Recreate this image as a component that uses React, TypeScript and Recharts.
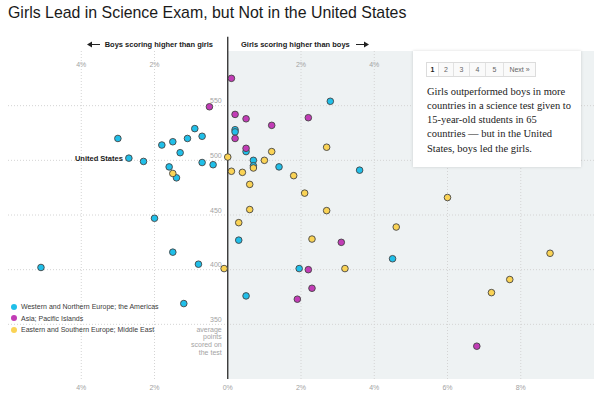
import {
  ScatterChart,
  Scatter,
  XAxis,
  YAxis,
  ReferenceLine,
  ReferenceArea,
  ReferenceDot,
} from 'recharts'

// gap = girls minus boys, in percent; score = average points on the test
const westGap = [-3.0, -2.7, -2.3, -1.8, -1.5, -1.1, -0.9, -0.7, -1.3, -1.6, -1.4, -0.7, -0.4, -2.0, 0.2, 0.2, 0.5, 0.7, 0.7, 1.4, 2.8, 3.6, 0.3, -1.5, -0.8, -5.1, 0.5, -1.2, 1.95, 4.5]
const westScore = [520, 502, 499, 514, 517, 520, 529, 522, 507, 494, 484, 498, 496, 447, 528, 526, 508, 500, 495, 494, 554, 491, 427, 416, 405, 402, 376, 369, 401, 410]

const asiaGap = [-0.5, 0.1, 0.2, 0.5, 1.2, 0.2, 0.5, 2.2, 3.1, 2.2, 2.3, 1.9, 6.8]
const asiaScore = [549, 575, 542, 538, 532, 520, 511, 539, 425, 400, 383, 373, 330]

const eastGap = [0, -1.5, 0.1, 0.4, 0.7, 1.0, 1.2, 0.6, 1.8, 0.6, 2.7, 2.1, 2.7, 6.0, 0.3, 2.3, 4.6, -0.1, 3.2, 8.8, 7.7, 7.2]
const eastScore = [503, 488, 490, 489, 493, 500, 508, 478, 486, 455, 512, 470, 454, 466, 443, 428, 439, 401, 401, 415, 391, 379]

const usGap = -2.7
const usScore = 502

const xTicks = [-4, -2, 0, 2, 4, 6, 8]
const topTicks = [-4, -2, 2, 4, 6, 8]
const yTicks = [350, 400, 450, 500, 550]

const groups = [
  { name: 'Western and Northern Europe; the Americas', color: '#20bfe9', gap: westGap, score: westScore },
  { name: 'Asia; Pacific Islands', color: '#c23cb6', gap: asiaGap, score: asiaScore },
  { name: 'Eastern and Southern Europe; Middle East', color: '#fad355', gap: eastGap, score: eastScore },
]

const SANS = '"Liberation Sans", Arial, Helvetica, sans-serif'
const SERIF = '"Liberation Serif", Georgia, serif'
const TICK = '#a3a3a3'
const GRID = '#d4d4d4'

const pct = (v: number) => `${Math.abs(v)}%`

const makeDot = (fill: string) => (p: any) => (
  <circle cx={p.cx} cy={p.cy} r={3.3} fill={fill} stroke="#444" strokeWidth={0.9} />
)

const BottomTick = ({ x, y, payload }: any) => (
  <text x={x} y={y + 10.5} textAnchor="middle" fontSize={7} fill={TICK} fontFamily={SANS}>
    {pct(payload.value)}
  </text>
)

const Arrow = ({ dir }: { dir: 'left' | 'right' }) => (
  <svg width={13} height={7} style={{ display: 'block' }}>
    {dir === 'left' ? (
      <>
        <line x1={4} y1={3.5} x2={13} y2={3.5} stroke="#222" strokeWidth={1} />
        <polygon points="0,3.5 5,0.5 5,6.5" fill="#222" />
      </>
    ) : (
      <>
        <line x1={0} y1={3.5} x2={9} y2={3.5} stroke="#222" strokeWidth={1} />
        <polygon points="13,3.5 8,0.5 8,6.5" fill="#222" />
      </>
    )}
  </svg>
)

const pages = ['1', '2', '3', '4', '5', 'Next »']
const pageWidths = [11, 14, 15, 15, 17, 31]

export default function App() {
  return (
    <div
      style={{
        position: 'absolute',
        left: 0,
        top: 0,
        width: 600,
        height: 395,
        background: '#fff',
        overflow: 'hidden',
        fontFamily: SANS,
      }}
    >
      <div style={{ position: 'absolute', left: 8, top: 3.5, fontSize: 15.9, color: '#1a1a1a', whiteSpace: 'nowrap' }}>
        Girls Lead in Science Exam, but Not in the United States
      </div>

      <ScatterChart width={600} height={395} margin={{ top: 51, right: 6, bottom: 0, left: 8 }}>
        <ReferenceArea x1={0} x2={10} y1={300} y2={600} fill="#eef2f3" fillOpacity={1} stroke="none" />
        <XAxis
          type="number"
          dataKey="gap"
          domain={[-6, 10]}
          ticks={xTicks}
          height={16}
          axisLine={false}
          tickLine={false}
          tickSize={0}
          tickMargin={0}
          tick={<BottomTick />}
          allowDataOverflow
        />
        <YAxis type="number" dataKey="score" domain={[300, 600]} ticks={yTicks} hide allowDataOverflow />

        {/* dotted grid */}
        {yTicks.map((t) => (
          <ReferenceLine key={`gy${t}`} y={t} stroke={GRID} strokeDasharray="1 2" />
        ))}
        {topTicks.map((t) => (
          <ReferenceLine
            key={`top${t}`}
            x={t}
            stroke={GRID}
            strokeDasharray="1 2"
            label={(p: any) => (
              <text x={p.viewBox.x} y={p.viewBox.y + 15.5} textAnchor="middle" fontSize={7} fill={TICK} fontFamily={SANS}>
                {pct(t)}
              </text>
            )}
          />
        ))}

        {yTicks.map((t) => (
          <ReferenceDot
            key={`y${t}`}
            x={0}
            y={t}
            r={1}
            fill="none"
            stroke="none"
            label={(p: any) => (
              <text
                x={p.viewBox.x + p.viewBox.width / 2 - 6}
                y={p.viewBox.y + p.viewBox.height / 2 - 2.5}
                textAnchor="end"
                fontSize={7}
                fill={TICK}
                fontFamily={SANS}
              >
                {t}
              </text>
            )}
          />
        ))}

        <ReferenceDot
          x={0}
          y={350}
          r={1}
          fill="none"
          stroke="none"
          label={(p: any) => {
            const cx = p.viewBox.x + p.viewBox.width / 2 - 6
            const cy = p.viewBox.y + p.viewBox.height / 2
            return (
              <text x={cx} y={cy + 7.5} textAnchor="end" fontSize={7} fill={TICK} fontFamily={SANS}>
                <tspan x={cx} dy={0}>average</tspan>
                <tspan x={cx} dy={7.6}>points</tspan>
                <tspan x={cx} dy={7.6}>scored on</tspan>
                <tspan x={cx} dy={7.6}>the test</tspan>
              </text>
            )
          }}
        />

        <ReferenceLine
          segment={[
            { x: 0, y: 300 },
            { x: 0, y: 613 },
          ]}
          stroke="#2a2a2a"
          strokeWidth={1.3}
          ifOverflow="visible"
        />

        {groups.map((g) => (
          <Scatter
            key={g.name}
            name={g.name}
            data={g.gap.map((v, i) => ({ gap: v, score: g.score[i] }))}
            fill={g.color}
            shape={makeDot(g.color)}
            isAnimationActive={false}
          />
        ))}

        <ReferenceDot
          x={usGap}
          y={usScore}
          r={1}
          fill="none"
          stroke="none"
          label={(p: any) => (
            <text
              x={p.viewBox.x + p.viewBox.width / 2 - 6}
              y={p.viewBox.y + p.viewBox.height / 2 + 2.5}
              textAnchor="end"
              fontSize={7.5}
              fontWeight="bold"
              fill="#1a1a1a"
              fontFamily={SANS}
            >
              United States
            </text>
          )}
        />
      </ScatterChart>

      {/* header above the plot */}
      <div style={{ position: 'absolute', right: 600 - 213, top: 39.5, display: 'flex', alignItems: 'center', gap: 5, fontSize: 7.5, fontWeight: 'bold', color: '#1a1a1a', whiteSpace: 'nowrap' }}>
        <Arrow dir="left" />
        <span>Boys scoring higher than girls</span>
      </div>
      <div style={{ position: 'absolute', left: 241, top: 39.5, display: 'flex', alignItems: 'center', gap: 6, fontSize: 7.5, fontWeight: 'bold', color: '#1a1a1a', whiteSpace: 'nowrap' }}>
        <span>Girls scoring higher than boys</span>
        <Arrow dir="right" />
      </div>

      {/* legend */}
      <div style={{ position: 'absolute', left: 11, top: 301 }}>
        {groups.map((g) => (
          <div key={g.name} style={{ display: 'flex', alignItems: 'center', height: 11.5, fontSize: 7, color: '#3a3a3a', whiteSpace: 'nowrap' }}>
            <span style={{ display: 'inline-block', width: 6, height: 6, borderRadius: 3, background: g.color, marginRight: 4 }} />
            {g.name}
          </div>
        ))}
      </div>

      {/* annotation box */}
      <div
        style={{
          position: 'absolute',
          left: 413,
          top: 51,
          width: 168,
          height: 116,
          background: '#fff',
          boxShadow: '0 0 3px rgba(0,0,0,0.15)',
        }}
      >
        <div style={{ position: 'absolute', left: 13, top: 11, display: 'flex', border: '1px solid #dcdcdc', height: 13, fontSize: 7, color: '#555' }}>
          {pages.map((p, i) => (
            <div
              key={p}
              style={{
                width: pageWidths[i],
                textAlign: 'center',
                lineHeight: '13px',
                borderLeft: i ? '1px solid #e2e2e2' : 'none',
                background: i ? '#fafafa' : '#fff',
                fontWeight: i ? 'normal' : 'bold',
                color: i ? '#666' : '#222',
              }}
            >
              {p}
            </div>
          ))}
        </div>
        <div style={{ position: 'absolute', left: 14, top: 33.5, width: 150, fontFamily: SERIF, fontSize: 10.5, lineHeight: '14.3px', color: '#222' }}>
          Girls outperformed boys in more
          <br />
          countries in a science test given to
          <br />
          15-year-old students in 65
          <br />
          countries — but in the United
          <br />
          States, boys led the girls.
        </div>
      </div>
    </div>
  )
}
